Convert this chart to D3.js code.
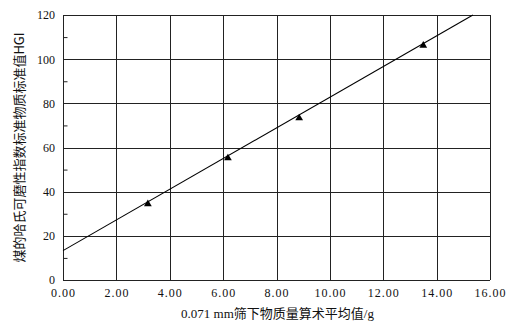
<!DOCTYPE html>
<html>
<head>
<meta charset="utf-8">
<script src="https://cdn.jsdelivr.net/npm/d3@7"></script>
<style>
  body { margin: 0; background: #fff; }
  .axis text { font-family: "Liberation Serif", "DejaVu Serif", serif; font-size: 12px; fill: #111; }
  .axis .domain { display: none; }
  .grid line { stroke: #222; stroke-width: 1; }
</style>
</head>
<body>
<script>
let w = 514;
let h = 330;
let margin = { left: 63, right: 24, top: 15, bottom: 50 };

// measured points
let xValues = [3.18, 6.18, 8.85, 13.5];
let yValues = [34.4, 55.2, 73.3, 106.2];

// fitted line end points
let lineX = [0, 15.36];
let lineY = [13.3, 120];

let xTicks = [0, 2, 4, 6, 8, 10, 12, 14, 16];
let yTicks = [0, 20, 40, 60, 80, 100, 120];
let yMinorTicks = [10, 30, 50, 70, 90, 110];

let xTitle = '0.071 mm筛下物质量算术平均值/g';
let yTitle = '煤的哈氏可磨性指数标准物质标准值HGI';

let xScale = d3.scaleLinear()
  .domain([0, 16])
  .range([margin.left, w - margin.right]);

let yScale = d3.scaleLinear()
  .domain([0, 120])
  .range([h - margin.bottom, margin.top]);

let svg = d3.select('body')
  .append('svg')
  .attr('width', w)
  .attr('height', h);

let innerH = h - margin.top - margin.bottom;

// grid lines
svg.append('g')
  .attr('class', 'grid')
  .selectAll('line')
  .data(xTicks)
  .enter()
  .append('line')
  .attr('x1', (d) => { return Math.round(xScale(d)) + 0.5; })
  .attr('x2', (d) => { return Math.round(xScale(d)) + 0.5; })
  .attr('y1', margin.top)
  .attr('y2', h - margin.bottom);

svg.append('g')
  .attr('class', 'grid')
  .selectAll('line')
  .data(yTicks)
  .enter()
  .append('line')
  .attr('x1', margin.left)
  .attr('x2', w - margin.right)
  .attr('y1', (d) => { return Math.round(yScale(d)) + 0.5; })
  .attr('y2', (d) => { return Math.round(yScale(d)) + 0.5; });

// axes (labels only, grid does the lines)
let xAxis = d3.axisBottom()
  .scale(xScale)
  .tickValues(xTicks)
  .tickSize(0)
  .tickPadding(8)
  .tickFormat((d) => { return d.toFixed(2); });

let yAxis = d3.axisLeft()
  .scale(yScale)
  .tickValues(yTicks)
  .tickSize(0)
  .tickPadding(8);

svg.append('g')
  .attr('class', 'axis')
  .attr('transform', 'translate(0, ' + (h - margin.bottom) + ')')
  .call(xAxis)
  .selectAll('text')
  .attr('letter-spacing', '1px');

svg.append('g')
  .attr('class', 'axis')
  .attr('transform', 'translate(' + margin.left + ', 0)')
  .call(yAxis);

// minor ticks on the left axis, pointing inward
let yMinor = d3.axisRight()
  .scale(yScale)
  .tickValues(yMinorTicks)
  .tickSize(4)
  .tickFormat('');

svg.append('g')
  .attr('class', 'axis')
  .attr('transform', 'translate(' + (margin.left + 0.5) + ', 0)')
  .call(yMinor)
  .selectAll('line')
  .attr('stroke', '#222');

// fitted line
let line = d3.line()
  .x((d) => { return xScale(d[0]); })
  .y((d) => { return yScale(d[1]); });

svg.append('path')
  .datum(d3.zip(lineX, lineY))
  .attr('d', line)
  .attr('fill', 'none')
  .attr('stroke', '#000')
  .attr('stroke-width', 1.1);

// points
svg.selectAll('path.pt')
  .data(d3.zip(xValues, yValues))
  .enter()
  .append('path')
  .attr('class', 'pt')
  .attr('d', d3.symbol().type(d3.symbolTriangle).size(26))
  .attr('transform', (d) => { return 'translate(' + xScale(d[0]) + ',' + yScale(d[1]) + ')'; })
  .attr('fill', '#000');

// titles
svg.append('text')
  .attr('x', (margin.left + w - margin.right) / 2 + 1)
  .attr('y', 318)
  .attr('text-anchor', 'middle')
  .attr('font-family', '"Liberation Serif", "Noto Sans CJK SC", serif')
  .attr('font-size', '13px')
  .attr('fill', '#111')
  .text(xTitle);

svg.append('text')
  .attr('transform', 'translate(24, ' + (margin.top + innerH / 2) + ') rotate(-90)')
  .attr('text-anchor', 'middle')
  .attr('font-family', '"Noto Sans CJK SC", sans-serif')
  .attr('font-size', '13px')
  .attr('fill', '#111')
  .text(yTitle);
</script>
</body>
</html>
